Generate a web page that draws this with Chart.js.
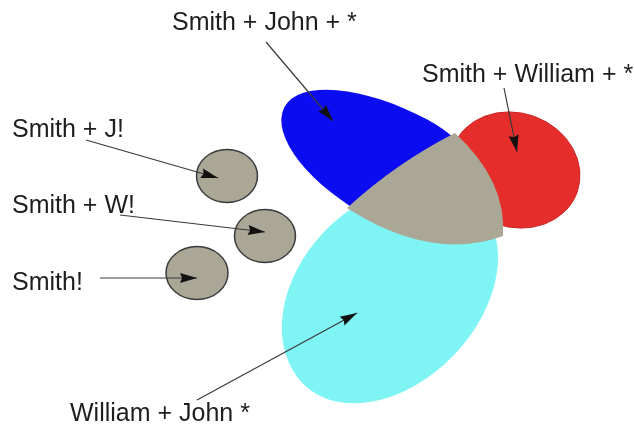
<!DOCTYPE html>
<html>
<head>
<meta charset="utf-8">
<script src="https://cdn.jsdelivr.net/npm/chart.js"></script>
<title>Smith / John / William</title>
<style>
  html, body { margin: 0; padding: 0; background: #ffffff; }
  #wrap { width: 634px; height: 425px; }
</style>
</head>
<body>
<div id="wrap"><canvas id="chart-1" width="634" height="425"></canvas></div>

<script>
  // big egg shaped sets (drawn in this order)
  const blobNames  = ["William + John", "Smith + John", "Smith + William"];
  const blobColors = ["#7ff4f4", "#0c0cf3", "#e52d2b"];
  const blobCx     = [391, 401, 515];
  const blobCy     = [295, 169, 170];
  const blobTilt   = [-46, 28, 20];    // degrees
  const blobFront  = [125, 90, 66];    // radius along the tilt direction
  const blobBack   = [125, 132, 66];   // radius against it
  const blobSideA  = [87, 58, 57];     // half width, clockwise side
  const blobSideB  = [92, 56, 57];     // half width, other side

  // grey overlap in the middle: three corners, one bend per side
  const overlapX = [455, 347, 503];
  const overlapY = [133, 208, 236];
  const bendX    = [396, 431, 507];
  const bendY    = [163, 262, 181];

  // the three small grey circles
  const dotCx = [227, 265, 197];
  const dotCy = [176, 236, 273];
  const dotRx = [30.5, 30.5, 31];
  const dotRy = [26.5, 26.5, 26.5];

  // labels
  const labelText = ["Smith + John + *", "Smith + William + *", "Smith + J!", "Smith + W!", "Smith!", "William + John *"];
  const labelX    = [172, 422, 12, 12, 12, 70];
  const labelY    = [30, 82, 137, 213, 290, 421];

  // arrows, label -> shape
  const arrowFromX = [266, 504, 86, 120, 100, 197];
  const arrowFromY = [42, 88, 140, 215, 278, 400];
  const arrowToX   = [333, 517, 218, 265, 197, 357];
  const arrowToY   = [121, 152, 178, 232, 278, 313];

  const greyFill = "#aaa797";

  const arrowSets = arrowFromX.map((x, i) => ({
    label: labelText[i],
    data: [{x: x, y: arrowFromY[i]}, {x: arrowToX[i], y: arrowToY[i]}],
    showLine: true,
    borderColor: "#3a3a3a",
    borderWidth: 1.2,
    pointRadius: 0,
    pointHoverRadius: 0
  }));

  // four quarter ellipses joined, so the shape can be a bit lopsided
  function eggPath(ctx, cx, cy, tilt, front, back, sideA, sideB) {
    ctx.save();
    ctx.translate(cx, cy);
    ctx.rotate(tilt * Math.PI / 180);
    ctx.beginPath();
    ctx.ellipse(0, 0, front, sideA, 0, 0, Math.PI / 2);
    ctx.ellipse(0, 0, back, sideA, 0, Math.PI / 2, Math.PI);
    ctx.ellipse(0, 0, back, sideB, 0, Math.PI, Math.PI * 1.5);
    ctx.ellipse(0, 0, front, sideB, 0, Math.PI * 1.5, Math.PI * 2);
    ctx.closePath();
    ctx.restore();
  }

  const shapesPlugin = {
    id: "shapes",
    beforeDatasetsDraw(chart) {
      const ctx = chart.ctx;
      const xs = chart.scales.x, ys = chart.scales.y;
      const px = v => xs.getPixelForValue(v);
      const py = v => ys.getPixelForValue(v);
      const k = Math.abs(px(1) - px(0));

      ctx.save();
      blobNames.forEach((n, i) => {
        ctx.save();
        if (i == 1) {
          // the blue set only shows above the lower edge of the overlap
          const ax = px(overlapX[1]), ay = py(overlapY[1]);
          const bx = px(overlapX[2]), by = py(overlapY[2]);
          const dx = bx - ax, dy = by - ay;
          ctx.beginPath();
          ctx.moveTo(ax - dx * 3, ay - dy * 3);
          ctx.lineTo(bx + dx * 3, by + dy * 3);
          ctx.lineTo(bx + dx * 3, -2000);
          ctx.lineTo(ax - dx * 3, -2000);
          ctx.closePath();
          ctx.clip();
        }
        eggPath(ctx, px(blobCx[i]), py(blobCy[i]), blobTilt[i],
          blobFront[i] * k, blobBack[i] * k, blobSideA[i] * k, blobSideB[i] * k);
        ctx.fillStyle = blobColors[i];
        ctx.fill();
        if (i == 2) {
          ctx.strokeStyle = "#c92626";
          ctx.lineWidth = 1;
          ctx.stroke();
        }
        ctx.restore();
      });

      // middle overlap
      ctx.beginPath();
      ctx.moveTo(px(overlapX[0]), py(overlapY[0]));
      for (let i = 0; i < 3; i++) {
        const j = (i + 1) % 3;
        ctx.quadraticCurveTo(px(bendX[i]), py(bendY[i]), px(overlapX[j]), py(overlapY[j]));
      }
      ctx.closePath();
      ctx.fillStyle = greyFill;
      ctx.fill();

      // small circles
      dotCx.forEach((x, i) => {
        ctx.beginPath();
        ctx.ellipse(px(x), py(dotCy[i]), dotRx[i] * k, dotRy[i] * k, 0, 0, Math.PI * 2);
        ctx.fillStyle = greyFill;
        ctx.fill();
        ctx.strokeStyle = "#3b3b3b";
        ctx.lineWidth = 1.5;
        ctx.stroke();
      });
      ctx.restore();
    },
    afterDatasetsDraw(chart) {
      const ctx = chart.ctx;
      const xs = chart.scales.x, ys = chart.scales.y;
      ctx.save();

      // arrow heads at the end of each line
      chart.data.datasets.forEach((ds, i) => {
        const pts = chart.getDatasetMeta(i).data;
        const a = pts[0], b = pts[pts.length - 1];
        const ang = Math.atan2(b.y - a.y, b.x - a.x);
        const len = 17, w = 5;
        ctx.save();
        ctx.translate(b.x, b.y);
        ctx.rotate(ang);
        ctx.beginPath();
        ctx.moveTo(0, 0);
        ctx.lineTo(-len, -w);
        ctx.lineTo(-len + 2, 0);
        ctx.lineTo(-len, w);
        ctx.closePath();
        ctx.fillStyle = "#111111";
        ctx.fill();
        ctx.restore();
      });

      ctx.fillStyle = "#1e1e1e";
      ctx.font = "25px 'Liberation Sans', Arial, sans-serif";
      ctx.textBaseline = "alphabetic";
      ctx.textAlign = "left";
      labelText.forEach((t, i) => {
        ctx.fillText(t, xs.getPixelForValue(labelX[i]), ys.getPixelForValue(labelY[i]));
      });
      ctx.restore();
    }
  };

  const config = {
    type: "scatter",
    data: { datasets: arrowSets },
    options: {
      responsive: false,
      animation: false,
      events: [],
      layout: { padding: 0 },
      scales: {
        x: { type: "linear", min: 0, max: 634, display: false },
        y: { type: "linear", min: 0, max: 425, reverse: true, display: false }
      },
      plugins: {
        legend: { display: false },
        tooltip: { enabled: false }
      }
    },
    plugins: [shapesPlugin]
  };

  const chart = new Chart(document.getElementById("chart-1"), config);
</script>
</body>
</html>
